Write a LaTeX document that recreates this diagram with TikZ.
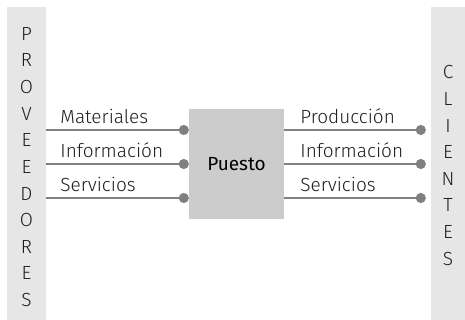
\documentclass[tikz,border=0pt]{standalone}
\usepackage{fontspec}
\setmainfont{Fira Sans Light}
\newfontfamily\regfont{Fira Sans}
\usetikzlibrary{arrows.meta,positioning,calc}
\definecolor{bargray}{RGB}{230,230,230}
\definecolor{boxgray}{RGB}{204,204,204}
\definecolor{linegray}{RGB}{128,128,128}
\definecolor{txtgray}{RGB}{30,30,30}

\begin{document}
\begin{tikzpicture}[x=1pt,y=1pt,
  bar/.style={fill=bargray,minimum height=313pt,inner sep=0pt},
  letters/.style={align=center,inner sep=0pt,text=txtgray,
              font=\fontsize{19}{26.6}\selectfont},
  puestobox/.style={fill=boxgray,minimum width=95pt,minimum height=110pt,
              inner sep=0pt,font=\regfont\fontsize{19}{22}\selectfont},
  flow/.style={-{Circle[length=10pt]},line width=2pt,linegray},
  lab/.style={font=\fontsize{19}{22}\selectfont,text=txtgray,
              anchor=base west,inner sep=0pt}
]
\useasboundingbox (0,0) rectangle (465,320);
% side bars
\node[bar,minimum width=39pt] (prov) at (26.5,156.5) {};
\node[bar,minimum width=34pt] (clie) at (448,156.5) {};
\node[letters] (provtxt) at ([yshift=-3.5pt]prov.center) {P\\R\\O\\V\\E\\E\\D\\O\\R\\E\\S};
\node[letters] (clietxt) at ([yshift=-2pt]clie.center) {C\\L\\I\\E\\N\\T\\E\\S};
% work station
\node[puestobox] (puesto) at (236.5,156) {Puesto};
% inputs and outputs
\foreach \dy/\inlab/\outlab [count=\i] in {34/Materiales/Producción,
    0/Información/Información,-34/Servicios/Servicios}{
  \coordinate (in\i) at ($(puesto.west)+(0,\dy)$);
  \coordinate (out\i) at ($(puesto.east)+(0,\dy)$);
  \draw[flow] (prov.east |- in\i) -- (in\i);
  \draw[flow,shorten >=5pt] (out\i) -- (clie.west |- out\i);
  \node[lab] (labin\i) at ($(prov.east |- in\i)+(14,6)$) {\inlab};
  \node[lab] (labout\i) at ($(out\i)+(16,6)$) {\outlab};
}
\end{tikzpicture}
\end{document}
